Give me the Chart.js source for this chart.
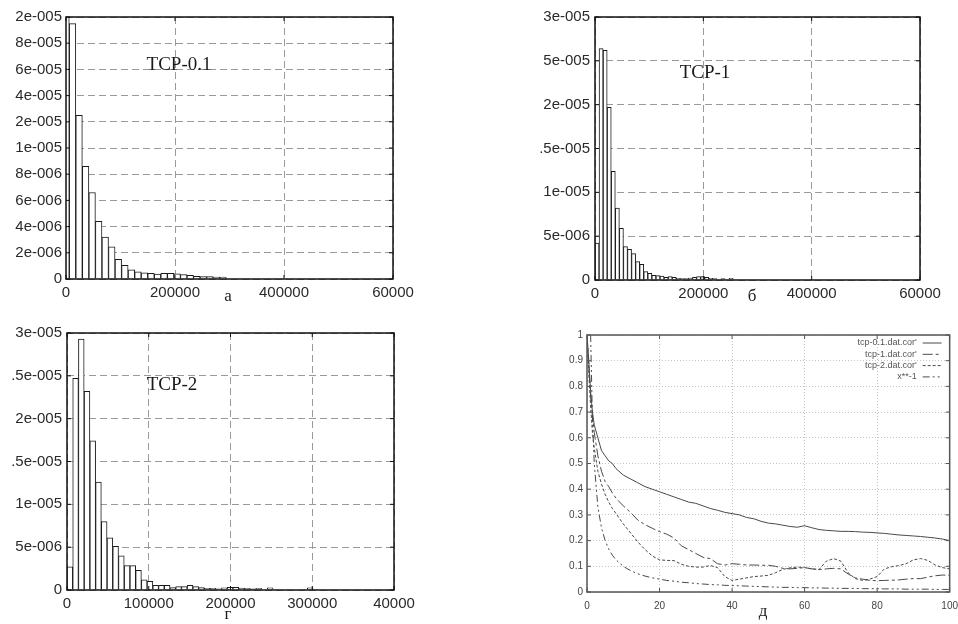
<!DOCTYPE html>
<html>
<head>
<meta charset="utf-8">
<script src="https://cdn.jsdelivr.net/npm/chart.js@4.4.1/dist/chart.umd.min.js"></script>
<style>
  body { margin: 0; background: #fff; width: 958px; height: 624px; position: relative; overflow: hidden; }
  .box { position: absolute; }
  .txt { position: absolute; font-family: "Liberation Serif", "Times New Roman", serif; color: #1a1a1a; transform: translate(-50%, -50%); white-space: nowrap; }
  .tcp { font-size: 19px; }
  .sub { font-size: 17px; }
</style>
</head>
<body>
<div class="box" id="boxA" style="left:0;top:0;width:420px;height:305px"><canvas id="histA"></canvas></div>
<div class="box" id="boxB" style="left:520px;top:0;width:435px;height:305px"><canvas id="histB"></canvas></div>
<div class="box" id="boxC" style="left:0;top:315px;width:420px;height:305px"><canvas id="histC"></canvas></div>
<div class="box" id="boxD" style="left:520px;top:320px;width:446px;height:304px"><canvas id="corr"></canvas></div>

<div class="txt tcp" style="left:179px;top:64px">TCP-0.1</div>
<div class="txt tcp" style="left:705px;top:72px">TCP-1</div>
<div class="txt tcp" style="left:172px;top:384px">TCP-2</div>
<div class="txt sub" style="left:228px;top:296px">а</div>
<div class="txt sub" style="left:752px;top:296px">б</div>
<div class="txt sub" style="left:228px;top:614px">г</div>
<div class="txt sub" style="left:763px;top:611px">д</div>

<script>
// --- TCP-0.1 histogram (bin centres, density)
const binsA = [0, 12000, 24000, 36000, 48000, 60000, 72000, 84000, 96000, 108000, 120000, 132000,
  144000, 156000, 168000, 180000, 192000, 204000, 216000, 228000, 240000, 252000, 264000, 276000, 288000];
const densA = [2.4e-5, 1.95e-5, 1.25e-5, 8.6e-6, 6.6e-6, 4.4e-6, 3.2e-6, 2.45e-6, 1.5e-6, 1.05e-6, 7.0e-7, 5.5e-7,
  4.8e-7, 4.3e-7, 3.8e-7, 4.3e-7, 4.3e-7, 4.0e-7, 3.3e-7, 2.8e-7, 2.0e-7, 1.8e-7, 1.8e-7, 1.5e-7, 1.5e-7];
const xTicksA = [0, 200000, 400000, 600000];
const xLabelsA = ["0", "200000", "400000", "60000"];
const yTicksA = [0, 2e-6, 4e-6, 6e-6, 8e-6, 1e-5, 1.2e-5, 1.4e-5, 1.6e-5, 1.8e-5, 2e-5];
const yLabelsA = ["0", "2e-006", "4e-006", "6e-006", "8e-006", "1e-005", "2e-005", "4e-005", "6e-005", "8e-005", "2e-005"];

// --- TCP-1 histogram
const binsB = [3750, 11250, 18750, 26250, 33750, 41250, 48750, 56250, 63750, 71250, 78750, 86250,
  93750, 101250, 108750, 116250, 123750, 131250, 138750, 146250, 153750, 161250, 168750, 176250,
  183750, 191250, 198750, 206250, 213750, 221250, 228750, 236250, 243750, 251250];
const densB = [4.2e-6, 2.64e-5, 2.62e-5, 1.97e-5, 1.24e-5, 8.2e-6, 5.9e-6, 3.8e-6, 3.5e-6, 3.0e-6, 2.1e-6, 1.8e-6,
  9.5e-7, 7.6e-7, 5.3e-7, 5.0e-7, 4.5e-7, 3.0e-7, 3.8e-7, 3.0e-7, 2.0e-7, 1.5e-7, 1.5e-7, 2.2e-7,
  3.0e-7, 3.8e-7, 3.8e-7, 3.0e-7, 2.0e-7, 1.5e-7, 0, 1.5e-7, 0, 2.0e-7];
const xTicksB = [0, 200000, 400000, 600000];
const xLabelsB = ["0", "200000", "400000", "60000"];
const yTicksB = [0, 5e-6, 1e-5, 1.5e-5, 2e-5, 2.5e-5, 3e-5];
const yLabelsB = ["0", "5e-006", "1e-005", ".5e-005", "2e-005", "5e-005", "3e-005"];

// --- TCP-2 histogram
const binsC = [3500, 10500, 17500, 24500, 31500, 38500, 45500, 52500, 59500, 66500, 73500, 80500,
  87500, 94500, 101500, 108500, 115500, 122500, 129500, 136500, 143500, 150500, 157500, 164500,
  171500, 178500, 185500, 192500, 199500, 206500, 213500, 220500, 227500, 234500, 241500, 248500,
  255500, 262500, 269500, 276500, 283500, 290500, 297500];
const densC = [2.7e-6, 2.47e-5, 2.93e-5, 2.32e-5, 1.74e-5, 1.26e-5, 8.0e-6, 6.1e-6, 5.1e-6, 4.0e-6, 2.85e-6, 2.85e-6,
  2.3e-6, 1.2e-6, 1.0e-6, 5.5e-7, 5.5e-7, 5.5e-7, 2.7e-7, 4.0e-7, 4.0e-7, 5.5e-7, 4.0e-7, 2.7e-7,
  2.0e-7, 2.0e-7, 1.5e-7, 2.5e-7, 3.0e-7, 3.0e-7, 2.2e-7, 2.0e-7, 1.5e-7, 2.0e-7, 0, 2.5e-7,
  0, 0, 0, 0, 0, 0, 2.5e-7];
const xTicksC = [0, 100000, 200000, 300000, 400000];
const xLabelsC = ["0", "100000", "200000", "300000", "40000"];
const yTicksC = [0, 5e-6, 1e-5, 1.5e-5, 2e-5, 2.5e-5, 3e-5];
const yLabelsC = ["0", "5e-006", "1e-005", ".5e-005", "2e-005", ".5e-005", "3e-005"];

// --- autocorrelation curves
const lag = [0, 0.5, 1, 1.5, 2, 3, 4, 5, 6, 7, 8,
  10, 12, 14, 16, 18, 20, 22, 24, 26, 28,
  30, 32, 34, 36, 38, 40, 42, 44, 46, 48,
  50, 52, 54, 56, 58, 60, 62, 64, 66, 68,
  70, 72, 74, 76, 78, 80, 82, 84, 86, 88,
  90, 92, 94, 96, 98, 100];
const cor01 = [1.0, 0.9, 0.78, 0.7, 0.65, 0.60, 0.55, 0.53, 0.51, 0.50, 0.48,
  0.455, 0.44, 0.425, 0.41, 0.40, 0.39, 0.38, 0.37, 0.36, 0.35,
  0.345, 0.335, 0.325, 0.318, 0.31, 0.305, 0.30, 0.29, 0.285, 0.275,
  0.268, 0.265, 0.26, 0.255, 0.252, 0.258, 0.25, 0.243, 0.24, 0.238,
  0.236, 0.236, 0.235, 0.233, 0.232, 0.23, 0.228, 0.225, 0.222, 0.22,
  0.218, 0.216, 0.213, 0.21, 0.206, 0.20];
const cor1 = [1.0, 0.88, 0.76, 0.68, 0.62, 0.53, 0.47, 0.43, 0.41, 0.385, 0.365,
  0.335, 0.31, 0.28, 0.262, 0.248, 0.235, 0.225, 0.21, 0.18, 0.165,
  0.15, 0.135, 0.13, 0.11, 0.105, 0.11, 0.108, 0.105, 0.105, 0.104,
  0.104, 0.1, 0.092, 0.09, 0.092, 0.095, 0.09, 0.087, 0.09, 0.092,
  0.09, 0.07, 0.055, 0.05, 0.045, 0.044, 0.045, 0.046, 0.047, 0.05,
  0.052, 0.052, 0.058, 0.063, 0.066, 0.065];
const cor2 = [1.0, 0.85, 0.72, 0.62, 0.56, 0.47, 0.42, 0.38, 0.35, 0.325, 0.305,
  0.265, 0.23, 0.195, 0.165, 0.14, 0.125, 0.123, 0.122, 0.108, 0.1,
  0.097, 0.097, 0.103, 0.095, 0.06, 0.045, 0.05, 0.055, 0.06, 0.062,
  0.065, 0.075, 0.088, 0.094, 0.097, 0.095, 0.09, 0.088, 0.12, 0.13,
  0.12, 0.075, 0.052, 0.045, 0.05, 0.06, 0.09, 0.098, 0.103, 0.11,
  0.125, 0.13, 0.123, 0.105, 0.095, 0.09];
const powMinus1 = [null, null, 1.0, 0.67, 0.5, 0.33, 0.25, 0.2, 0.167, 0.143, 0.125,
  0.1, 0.083, 0.071, 0.062, 0.055, 0.05, 0.045, 0.042, 0.038, 0.036,
  0.033, 0.031, 0.029, 0.028, 0.026, 0.025, 0.024, 0.023, 0.022, 0.021,
  0.02, 0.019, 0.018, 0.018, 0.017, 0.017, 0.016, 0.016, 0.015, 0.015,
  0.014, 0.014, 0.014, 0.013, 0.013, 0.013, 0.012, 0.012, 0.012, 0.011,
  0.011, 0.011, 0.011, 0.010, 0.010, 0.010];
const corrNames = ["tcp-0.1.dat.cor'", "tcp-1.dat.cor'", "tcp-2.dat.cor'", "x**-1"];
const corrXTicks = [0, 20, 40, 60, 80, 100];
const corrYTicks = [0, 0.1, 0.2, 0.3, 0.4, 0.5, 0.6, 0.7, 0.8, 0.9, 1];
const corrYLabels = ["0", "0.1", "0.2", "0.3", "0.4", "0.5", "0.6", "0.7", "0.8", "0.9", "1"];

// frame round the plot area plus small inward tick marks, gnuplot style
const framePlugin = {
  id: "frame",
  afterDatasetsDraw(chart, args, opts) {
    const { ctx, chartArea: a, scales } = chart;
    ctx.save();
    ctx.setLineDash([]);
    ctx.strokeStyle = opts.color;
    ctx.lineWidth = 1;
    ctx.beginPath();
    scales.x.ticks.forEach((t) => {
      const px = scales.x.getPixelForValue(t.value);
      ctx.moveTo(px, a.bottom); ctx.lineTo(px, a.bottom - opts.tick);
      ctx.moveTo(px, a.top); ctx.lineTo(px, a.top + opts.tick);
    });
    scales.y.ticks.forEach((t) => {
      const py = scales.y.getPixelForValue(t.value);
      ctx.moveTo(a.left, py); ctx.lineTo(a.left + opts.tick, py);
      ctx.moveTo(a.right, py); ctx.lineTo(a.right - opts.tick, py);
    });
    ctx.stroke();
    ctx.lineWidth = opts.width;
    ctx.strokeRect(a.left, a.top, a.right - a.left, a.bottom - a.top);
    ctx.restore();
  },
};

// legend in the top right corner: text right-aligned, line sample after it
const keyPlugin = {
  id: "key",
  afterDraw(chart) {
    const { ctx, chartArea: a } = chart;
    ctx.save();
    ctx.font = '9px "Liberation Sans", Arial, sans-serif';
    ctx.textAlign = "right";
    ctx.textBaseline = "middle";
    chart.data.datasets.forEach((ds, i) => {
      const y = a.top + 8 + i * 11.3;
      ctx.fillStyle = "#555";
      ctx.fillText(ds.label, a.right - 33, y);
      ctx.strokeStyle = ds.borderColor;
      ctx.lineWidth = 1;
      ctx.setLineDash(ds.borderDash || []);
      ctx.beginPath();
      ctx.moveTo(a.right - 27, y);
      ctx.lineTo(a.right - 8, y);
      ctx.stroke();
    });
    ctx.restore();
  },
};

const tickFont = { family: '"Liberation Sans", Arial, sans-serif', size: 15 };

function histChart(id, bins, dens, xTicks, xLabels, yTicks, yLabels, box) {
  return new Chart(document.getElementById(id), {
    type: "bar",
    data: {
      datasets: [
        {
          data: bins.map((b, i) => ({ x: b, y: dens[i] })),
          backgroundColor: "#fff",
          borderColor: "#1a1a1a",
          borderWidth: 1,
          barPercentage: 1,
          categoryPercentage: 1,
          clip: 0,
        },
      ],
    },
    options: {
      responsive: true,
      maintainAspectRatio: false,
      animation: false,
      layout: { padding: { top: box.top, right: box.right, left: 0, bottom: 0 } },
      plugins: {
        legend: { display: false },
        tooltip: { enabled: false },
        frame: { color: "#111", width: 1.5, tick: 4 },
      },
      scales: {
        x: {
          type: "linear",
          min: xTicks[0],
          max: xTicks[xTicks.length - 1],
          offset: false,
          afterBuildTicks: (s) => { s.ticks = xTicks.map((v) => ({ value: v })); },
          afterFit: (s) => { s.height = box.bottom; },
          grid: { color: "#9a9a9a", drawTicks: false, offset: false },
          border: { display: false, dash: [7, 4] },
          ticks: {
            padding: 5,
            color: "#2a2a2a",
            font: tickFont,
            maxRotation: 0,
            autoSkip: false,
            callback: (v, i) => xLabels[i],
          },
        },
        y: {
          min: yTicks[0],
          max: yTicks[yTicks.length - 1],
          afterBuildTicks: (s) => { s.ticks = yTicks.map((v) => ({ value: v })); },
          afterFit: (s) => { s.width = box.left; },
          grid: { color: "#9a9a9a", drawTicks: false },
          border: { display: false, dash: [7, 4] },
          ticks: {
            padding: box.labelPad,
            color: "#2a2a2a",
            font: tickFont,
            autoSkip: false,
            callback: (v, i) => yLabels[i],
          },
        },
      },
    },
    plugins: [framePlugin],
  });
}

histChart("histA", binsA, densA, xTicksA, xLabelsA, yTicksA, yLabelsA,
  { left: 66, top: 17, right: 27, bottom: 26, labelPad: 4 });
histChart("histB", binsB, densB, xTicksB, xLabelsB, yTicksB, yLabelsB,
  { left: 75, top: 17, right: 35, bottom: 25, labelPad: 5 });
histChart("histC", binsC, densC, xTicksC, xLabelsC, yTicksC, yLabelsC,
  { left: 67, top: 18, right: 26, bottom: 30, labelPad: 5 });

const lineGrey = "#4a4a4a";
const smallFont = { family: '"Liberation Sans", Arial, sans-serif', size: 10 };

new Chart(document.getElementById("corr"), {
  type: "line",
  data: {
    datasets: [
      { label: corrNames[0], data: lag.map((x, i) => ({ x, y: cor01[i] })), borderColor: lineGrey, borderDash: [] },
      { label: corrNames[1], data: lag.map((x, i) => ({ x, y: cor1[i] })), borderColor: lineGrey, borderDash: [10, 3, 3, 3] },
      { label: corrNames[2], data: lag.map((x, i) => ({ x, y: cor2[i] })), borderColor: lineGrey, borderDash: [3, 2] },
      { label: corrNames[3], data: lag.map((x, i) => ({ x, y: powMinus1[i] })), borderColor: lineGrey, borderDash: [7, 3, 2, 3, 2, 3] },
    ],
  },
  options: {
    responsive: true,
    maintainAspectRatio: false,
    animation: false,
    elements: {
      point: { radius: 0 },
      line: { borderWidth: 1, tension: 0 },
    },
    // right side is set by the "100" label overflow (half label + tick padding)
    layout: { padding: { top: 15, right: 0, left: 0, bottom: 0 } },
    plugins: {
      legend: { display: false },
      tooltip: { enabled: false },
      frame: { color: "#555", width: 1.5, tick: 4 },
    },
    scales: {
      x: {
        type: "linear",
        min: 0,
        max: 100,
        afterBuildTicks: (s) => { s.ticks = corrXTicks.map((v) => ({ value: v })); },
        afterFit: (s) => { s.height = 32; },
        grid: { color: "#c4c4c4", drawTicks: false },
        border: { display: false, dash: [1, 2] },
        ticks: { padding: 8, color: "#444", font: smallFont, maxRotation: 0, autoSkip: false },
      },
      y: {
        min: 0,
        max: 1,
        afterBuildTicks: (s) => { s.ticks = corrYTicks.map((v) => ({ value: v })); },
        afterFit: (s) => { s.width = 67; },
        grid: { color: "#c4c4c4", drawTicks: false },
        border: { display: false, dash: [1, 2] },
        ticks: { padding: 4, color: "#444", font: smallFont, autoSkip: false, callback: (v, i) => corrYLabels[i] },
      },
    },
  },
  plugins: [framePlugin, keyPlugin],
});
</script>
</body>
</html>
